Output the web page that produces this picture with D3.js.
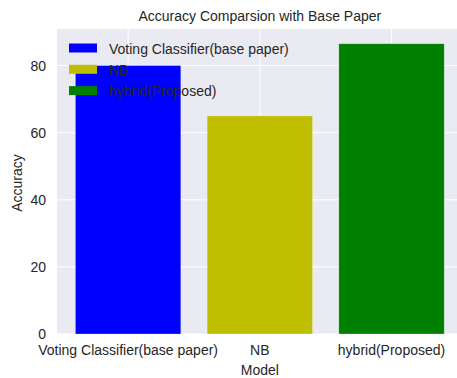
<!DOCTYPE html>
<html>
<head>
<meta charset="utf-8">
<script src="https://cdn.jsdelivr.net/npm/d3@7"></script>
<style>
  body { margin: 0; background: #fff; }
  text { font-family: "Liberation Sans", Arial, sans-serif; fill: #262626; }
</style>
</head>
<body>
<div id="chart"></div>
<script>
// data
const models = ["Voting Classifier(base paper)", "NB", "hybrid(Proposed)"];
const accuracy = [80, 65, 86.5];
const colors = ["#0000ff", "#bfbf00", "#008000"];
const yTicks = [0, 20, 40, 60, 80];

const width = 457, height = 378;
const margin = { top: 29, right: 0, bottom: 44, left: 57 };

const svg = d3.select("#chart").append("svg")
    .attr("width", width)
    .attr("height", height);

// x in "bar index" units, like matplotlib: -0.54 .. 2.54
const x = d3.scaleLinear()
    .domain([-0.54, 2.54])
    .range([margin.left, margin.left + 3.08 * 131.7]);

const y = d3.scaleLinear()
    .domain([0, 90.9])
    .range([height - margin.bottom, margin.top]);

// plot background
svg.append("rect")
    .attr("x", x(-0.54))
    .attr("y", y(90.9))
    .attr("width", x(2.54) - x(-0.54))
    .attr("height", y(0) - y(90.9))
    .attr("fill", "#eaeaf2");

// grid
svg.selectAll(".hgrid").data(yTicks).join("line")
    .attr("x1", x(-0.54)).attr("x2", x(2.54))
    .attr("y1", d => y(d)).attr("y2", d => y(d))
    .attr("stroke", "#fff").attr("stroke-width", 1);

svg.selectAll(".vgrid").data(models).join("line")
    .attr("x1", (d, i) => x(i)).attr("x2", (d, i) => x(i))
    .attr("y1", y(0)).attr("y2", y(90.9))
    .attr("stroke", "#fff").attr("stroke-width", 1);

// bars
svg.selectAll(".bar").data(accuracy).join("rect")
    .attr("x", (d, i) => x(i - 0.4))
    .attr("width", x(0.4) - x(-0.4))
    .attr("y", d => y(d))
    .attr("height", d => y(0) - y(d))
    .attr("fill", (d, i) => colors[i])
    .attr("stroke", "#fff")
    .attr("stroke-opacity", 0.4)
    .attr("stroke-width", 0.6);

// y tick labels
svg.selectAll(".ytick").data(yTicks).join("text")
    .attr("x", 46)
    .attr("y", d => y(d) + 5)
    .attr("text-anchor", "end")
    .attr("font-size", 14)
    .text(d => d);

// x tick labels
svg.selectAll(".xtick").data(models).join("text")
    .attr("x", (d, i) => x(i))
    .attr("y", 355)
    .attr("text-anchor", "middle")
    .attr("font-size", 14)
    .text(d => d);

// axis labels
svg.append("text")
    .attr("x", x(1))
    .attr("y", 375)
    .attr("text-anchor", "middle")
    .attr("font-size", 14)
    .text("Model");

svg.append("text")
    .attr("transform", `translate(22,${y(45)}) rotate(-90)`)
    .attr("text-anchor", "middle")
    .attr("font-size", 14)
    .text("Accuracy");

// title
svg.append("text")
    .attr("x", x(1))
    .attr("y", 21)
    .attr("text-anchor", "middle")
    .attr("font-size", 14)
    .text("Accuracy Comparsion with Base Paper");

// legend (no frame)
const legend = svg.selectAll(".leg").data(models).join("g")
    .attr("transform", (d, i) => `translate(69,${43.5 + i * 21.3})`);

legend.append("rect")
    .attr("width", 28).attr("height", 9)
    .attr("fill", (d, i) => colors[i]);

legend.append("text")
    .attr("x", 40)
    .attr("y", 10)
    .attr("font-size", 14)
    .text(d => d);
</script>
</body>
</html>
